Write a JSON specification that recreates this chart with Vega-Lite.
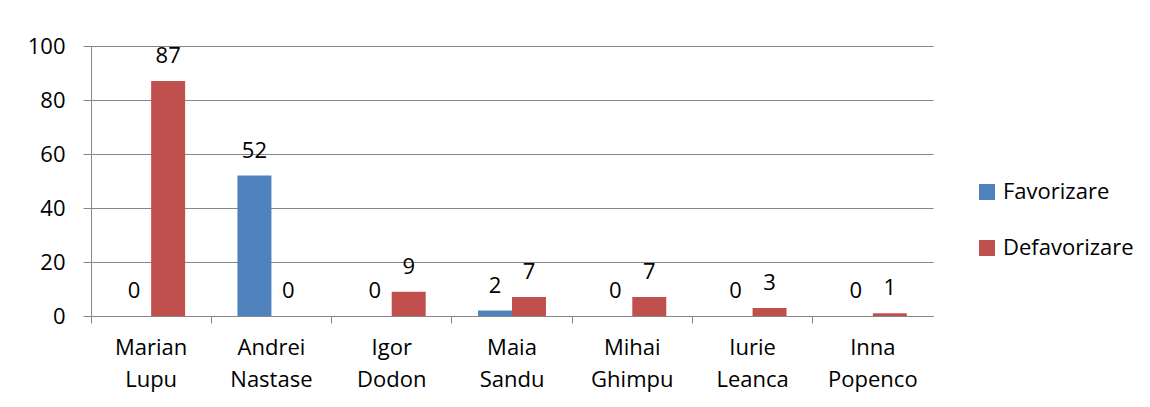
{
  "$schema": "https://vega.github.io/schema/vega-lite/v6.json",
  "autosize": {"type": "none"},
  "padding": {"left": 91, "top": 46, "right": 217, "bottom": 91},
  "width": 842,
  "height": 270,
  "background": "white",
  "data": {
    "values": [
      {"name": "Marian Lupu", "series": "Favorizare", "value": 0},
      {"name": "Marian Lupu", "series": "Defavorizare", "value": 87},
      {"name": "Andrei Nastase", "series": "Favorizare", "value": 52},
      {"name": "Andrei Nastase", "series": "Defavorizare", "value": 0},
      {"name": "Igor Dodon", "series": "Favorizare", "value": 0},
      {"name": "Igor Dodon", "series": "Defavorizare", "value": 9},
      {"name": "Maia Sandu", "series": "Favorizare", "value": 2},
      {"name": "Maia Sandu", "series": "Defavorizare", "value": 7},
      {"name": "Mihai Ghimpu", "series": "Favorizare", "value": 0},
      {"name": "Mihai Ghimpu", "series": "Defavorizare", "value": 7},
      {"name": "Iurie Leanca", "series": "Favorizare", "value": 0},
      {"name": "Iurie Leanca", "series": "Defavorizare", "value": 3},
      {"name": "Inna Popenco", "series": "Favorizare", "value": 0},
      {"name": "Inna Popenco", "series": "Defavorizare", "value": 1}
    ]
  },
  "encoding": {
    "x": {
      "field": "name", "type": "nominal", "sort": null,
      "scale": {"paddingInner": 0, "paddingOuter": 0},
      "axis": {
        "title": null, "labelAngle": 0, "bandPosition": 0,
        "domainColor": "#868686", "tickColor": "#868686", "tickSize": 7,
        "labelFont": "Open Sans", "labelFontSize": 22, "labelColor": "#000000",
        "labelPadding": 14, "labelLineHeight": 32, "labelBaseline": "top",
        "labelExpr": "split(datum.label, ' ')"
      }
    },
    "xOffset": {
      "field": "series", "type": "nominal",
      "sort": ["Favorizare", "Defavorizare"],
      "scale": {"paddingInner": 0, "paddingOuter": 0.77}
    },
    "y": {
      "field": "value", "type": "quantitative",
      "scale": {"domain": [0, 100], "nice": false},
      "axis": {
        "title": null, "values": [0, 20, 40, 60, 80, 100],
        "grid": true, "gridColor": "#868686", "domainColor": "#868686",
        "tickColor": "#868686", "tickSize": 8, "labelPadding": 18,
        "labelFont": "Open Sans", "labelFontSize": 22, "labelColor": "#000000"
      }
    }
  },
  "layer": [
    {
      "mark": {"type": "bar"},
      "encoding": {
        "color": {
          "field": "series", "type": "nominal",
          "sort": ["Favorizare", "Defavorizare"],
          "scale": {"domain": ["Favorizare", "Defavorizare"], "range": ["#4F81BD", "#C0504D"]},
          "legend": {
            "title": null, "orient": "none", "legendX": 885, "legendY": 135,
            "symbolType": "square", "symbolSize": 256, "symbolStrokeWidth": 0,
            "labelFont": "Open Sans", "labelFontSize": 22, "labelColor": "#000000",
            "rowPadding": 34, "labelOffset": 5, "padding": 0
          }
        }
      }
    },
    {
      "mark": {"type": "text", "baseline": "alphabetic", "dy": -18, "font": "Open Sans", "fontSize": 22, "color": "#000000"},
      "encoding": {"text": {"field": "value", "type": "quantitative"}}
    }
  ],
  "config": {"view": {"stroke": null}}
}
